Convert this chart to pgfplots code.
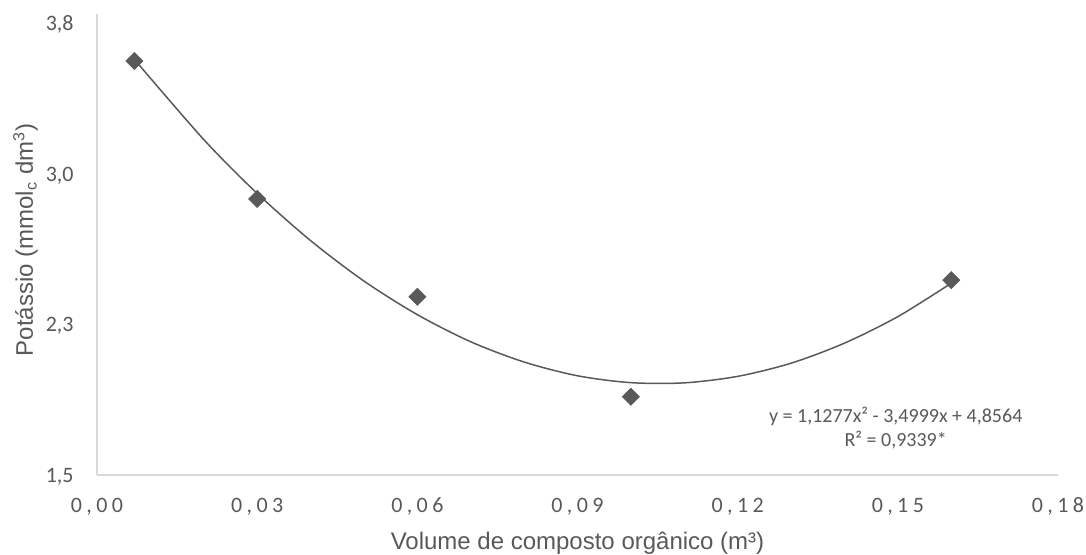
\documentclass[border=0pt]{standalone}
\usepackage{fontspec}
\usepackage{pgfplots}
\pgfplotsset{compat=1.18}
\setmainfont{Liberation Sans}
\newfontfamily\calibri{Carlito}
\newfontfamily\calibrispaced{Carlito}[LetterSpace=20]
\definecolor{txt}{HTML}{595959}
\definecolor{axline}{HTML}{D9D9D9}
\definecolor{mk}{HTML}{595959}

\begin{document}
\begin{tikzpicture}
\path[use as bounding box] (0,0) rectangle (543pt,277pt);
\begin{axis}[
  at={(48.5pt,39.5pt)}, anchor=south west,
  scale only axis, width=480.5pt, height=230.5pt,
  xmin=0, xmax=0.18, ymin=1.5, ymax=3.846,
  axis x line*=bottom, axis y line*=left,
  axis line style={axline, line width=0.9pt},
  xtick={0,0.03,0.06,0.09,0.12,0.15,0.18},
  ytick={1.5,2.266667,3.033333,3.8},
  major tick length=0pt,
  tick style={draw=none},
  /pgf/number format/assume math mode=true,
  xticklabel={\pgfmathprintnumber[fixed,fixed zerofill,precision=2,use comma]{\tick}},
  yticklabel={\pgfmathprintnumber[fixed,fixed zerofill,precision=1,use comma]{\tick}},
  xticklabel style={font=\calibrispaced\fontsize{11}{13}\selectfont, text=txt,
    anchor=north, inner sep=0pt, text height=7pt, text depth=1.5pt, yshift=-11.5pt},
  yticklabel style={font=\calibri\fontsize{11}{13}\selectfont, text=txt,
    anchor=east, inner sep=0pt, text height=7pt, text depth=1.5pt,
    xshift=-11.5pt, yshift=-1pt},
  xlabel={Volume de composto orgânico (m³)},
  ylabel={Potássio (mmol\textsubscript{c} dm\textsuperscript{3})},
  xlabel style={font=\fontsize{12}{14}\selectfont, text=txt,
    at={(axis description cs:0.5,-0.162)}, anchor=base},
  ylabel style={font=\fontsize{12}{14}\selectfont, text=txt,
    at={(axis description cs:-0.0666,0.51)}, anchor=base, rotate=0},
  clip=false,
]
% quadratic trend line
\addplot[mk, line width=0.75pt, smooth, no marks] coordinates {
  (0.007,3.615) (0.02,3.207) (0.03,2.933) (0.04,2.693) (0.05,2.487)
  (0.06,2.316) (0.07,2.178) (0.08,2.075) (0.09,2.005) (0.10,1.970)
  (0.11,1.969) (0.12,2.002) (0.13,2.069) (0.14,2.171) (0.15,2.306)
  (0.16,2.476)
};
% observed values
\addplot[only marks, mark=square*, mark size=3pt,
  mark options={rotate=45, fill=mk, draw=mk}] coordinates {
  (0.007,3.607) (0.03,2.905) (0.06,2.407) (0.10,1.898) (0.16,2.492)
};
\node[font=\calibri\fontsize{10}{12}\selectfont, text=txt, align=center]
  at (axis cs:0.1496,1.74) {y = 1,1277x² - 3,4999x + 4,8564\\R² = 0,9339*};
\end{axis}
\end{tikzpicture}
\end{document}
